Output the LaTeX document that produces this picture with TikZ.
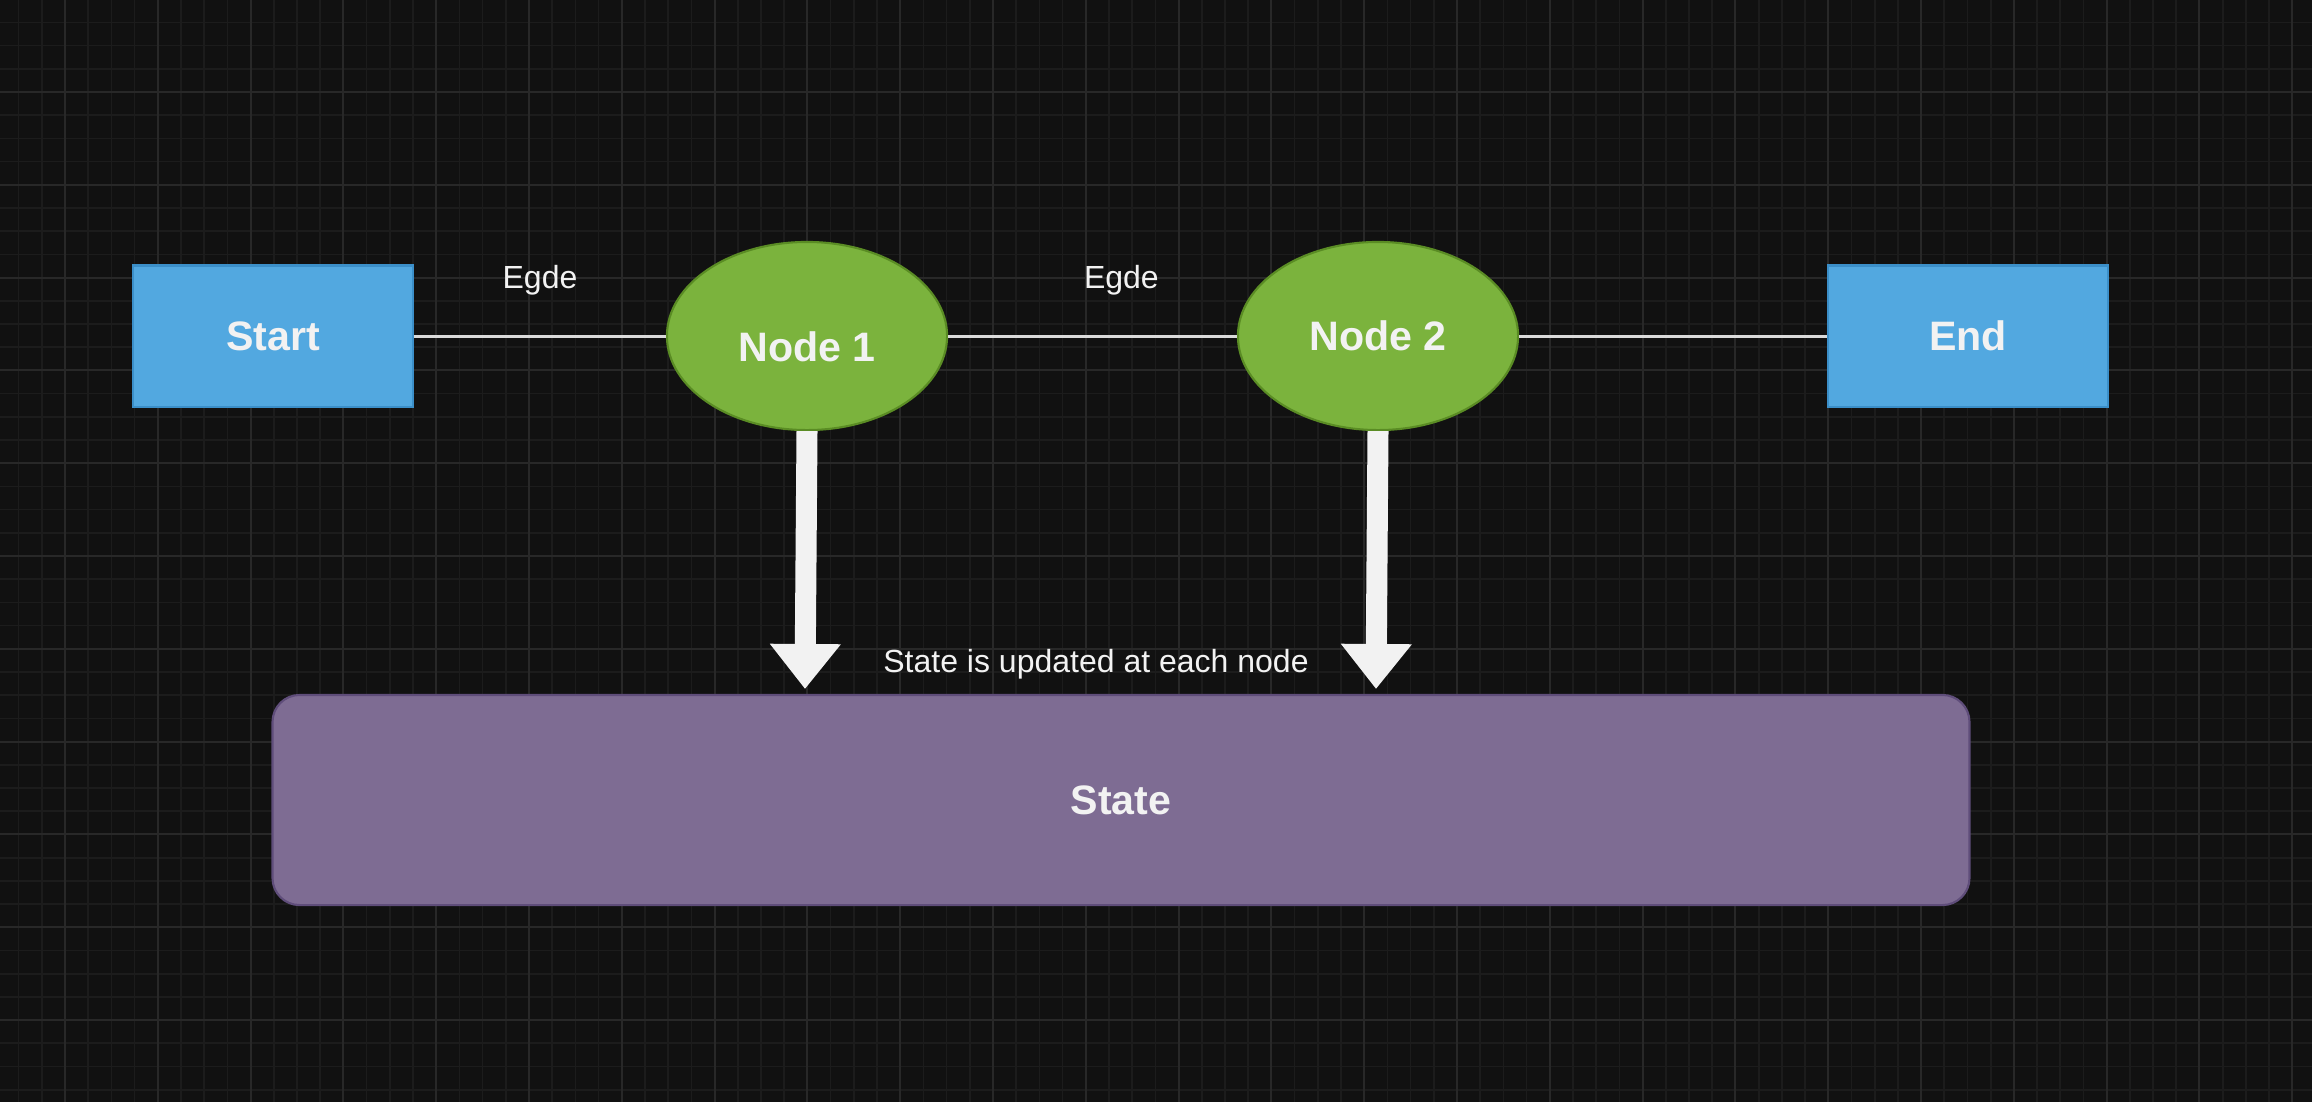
\documentclass[tikz,border=0pt]{standalone}
\usepackage{fontspec}
\setmainfont{Liberation Sans}
\usetikzlibrary{shapes.geometric, arrows.meta, positioning}

\definecolor{bgdark}{HTML}{111111}
\definecolor{gridminor}{HTML}{1C1C1C}
\definecolor{gridmajor}{HTML}{282828}
\definecolor{termblue}{HTML}{52A8E0}
\definecolor{termborder}{HTML}{3B8FC9}
\definecolor{stepgreen}{HTML}{7BB33D}
\definecolor{stepborder}{HTML}{5A8C24}
\definecolor{statepurple}{HTML}{7E6C93}
\definecolor{stateborder}{HTML}{5F4D7A}
\definecolor{edgegray}{HTML}{DADADA}
\definecolor{textwhite}{HTML}{F2F2F2}

\begin{document}
\begin{tikzpicture}[x=0.01cm, y=-0.01cm,
    termbox/.style={rectangle, draw=termborder, fill=termblue, line width=0.6pt, minimum width=2.8cm, minimum height=1.41cm, text=textwhite, font=\fontsize{11.7}{14}\selectfont\bfseries},
    stepnode/.style={ellipse, draw=stepborder, fill=stepgreen, line width=0.6pt, minimum width=2.8cm, minimum height=1.88cm, inner sep=0pt, text=textwhite, font=\fontsize{11.7}{14}\selectfont\bfseries},
    statebox/.style={rectangle, rounded corners=0.27cm, draw=stateborder, fill=statepurple, line width=0.6pt, minimum width=16.96cm, minimum height=2.1cm, text=textwhite, font=\fontsize{11.7}{14}\selectfont\bfseries},
    edgeline/.style={draw=edgegray, line width=0.85pt},
    edgelabel/.style={anchor=base, inner sep=0pt, text=textwhite, font=\fontsize{9.1}{11}\selectfont},
    bigarrow/.style={draw=textwhite, line width=0.21cm, -{Triangle[width=0.68cm, length=0.45cm]}}]

    % Background and grid
    \fill[bgdark] (0,0) rectangle (2312,1102);
    \useasboundingbox (0,0) rectangle (2312,1102);
    \foreach \i in {0,...,98}
        \draw[gridminor, line width=0.5pt] ({18.6+23.2*\i},0) -- ({18.6+23.2*\i},1102);
    \foreach \i in {0,...,46}
        \draw[gridminor, line width=0.5pt] (0,{22.4+23.2*\i}) -- (2312,{22.4+23.2*\i});
    \foreach \j in {0,...,24}
        \draw[gridmajor, line width=0.6pt] ({65+92.8*\j},0) -- ({65+92.8*\j},1102);
    \foreach \j in {0,...,10}
        \draw[gridmajor, line width=0.6pt] (0,{92+92.8*\j}) -- (2312,{92+92.8*\j});

    % Graph nodes
    \node[termbox] (start) at (273,336) {Start};
    \node[stepnode, text height=0.5cm, text depth=0pt] (n1) at (807,336) {Node 1};
    \node[stepnode] (n2) at (1378,336) {Node 2};
    \node[termbox] (end) at (1968,336) {End};

    % State
    \node[statebox] (state) at (1121,800) {State};
    \node[edgelabel] (note) at (1096,672) {State is updated at each node};

    % Edges
    \draw[edgeline] (start) -- node[edgelabel, pos=0.5, yshift=0.47cm] (e1) {Egde} (n1);
    \draw[edgeline] (n1) -- node[edgelabel, pos=0.6, yshift=0.47cm] (e2) {Egde} (n2);
    \draw[edgeline] (n2) -- (end);

    % Updates
    \coordinate (a1) at (805,689);
    \coordinate (a2) at (1376,689);
    \draw[bigarrow] (n1.south) -- (a1);
    \draw[bigarrow] (n2.south) -- (a2);
\end{tikzpicture}
\end{document}
